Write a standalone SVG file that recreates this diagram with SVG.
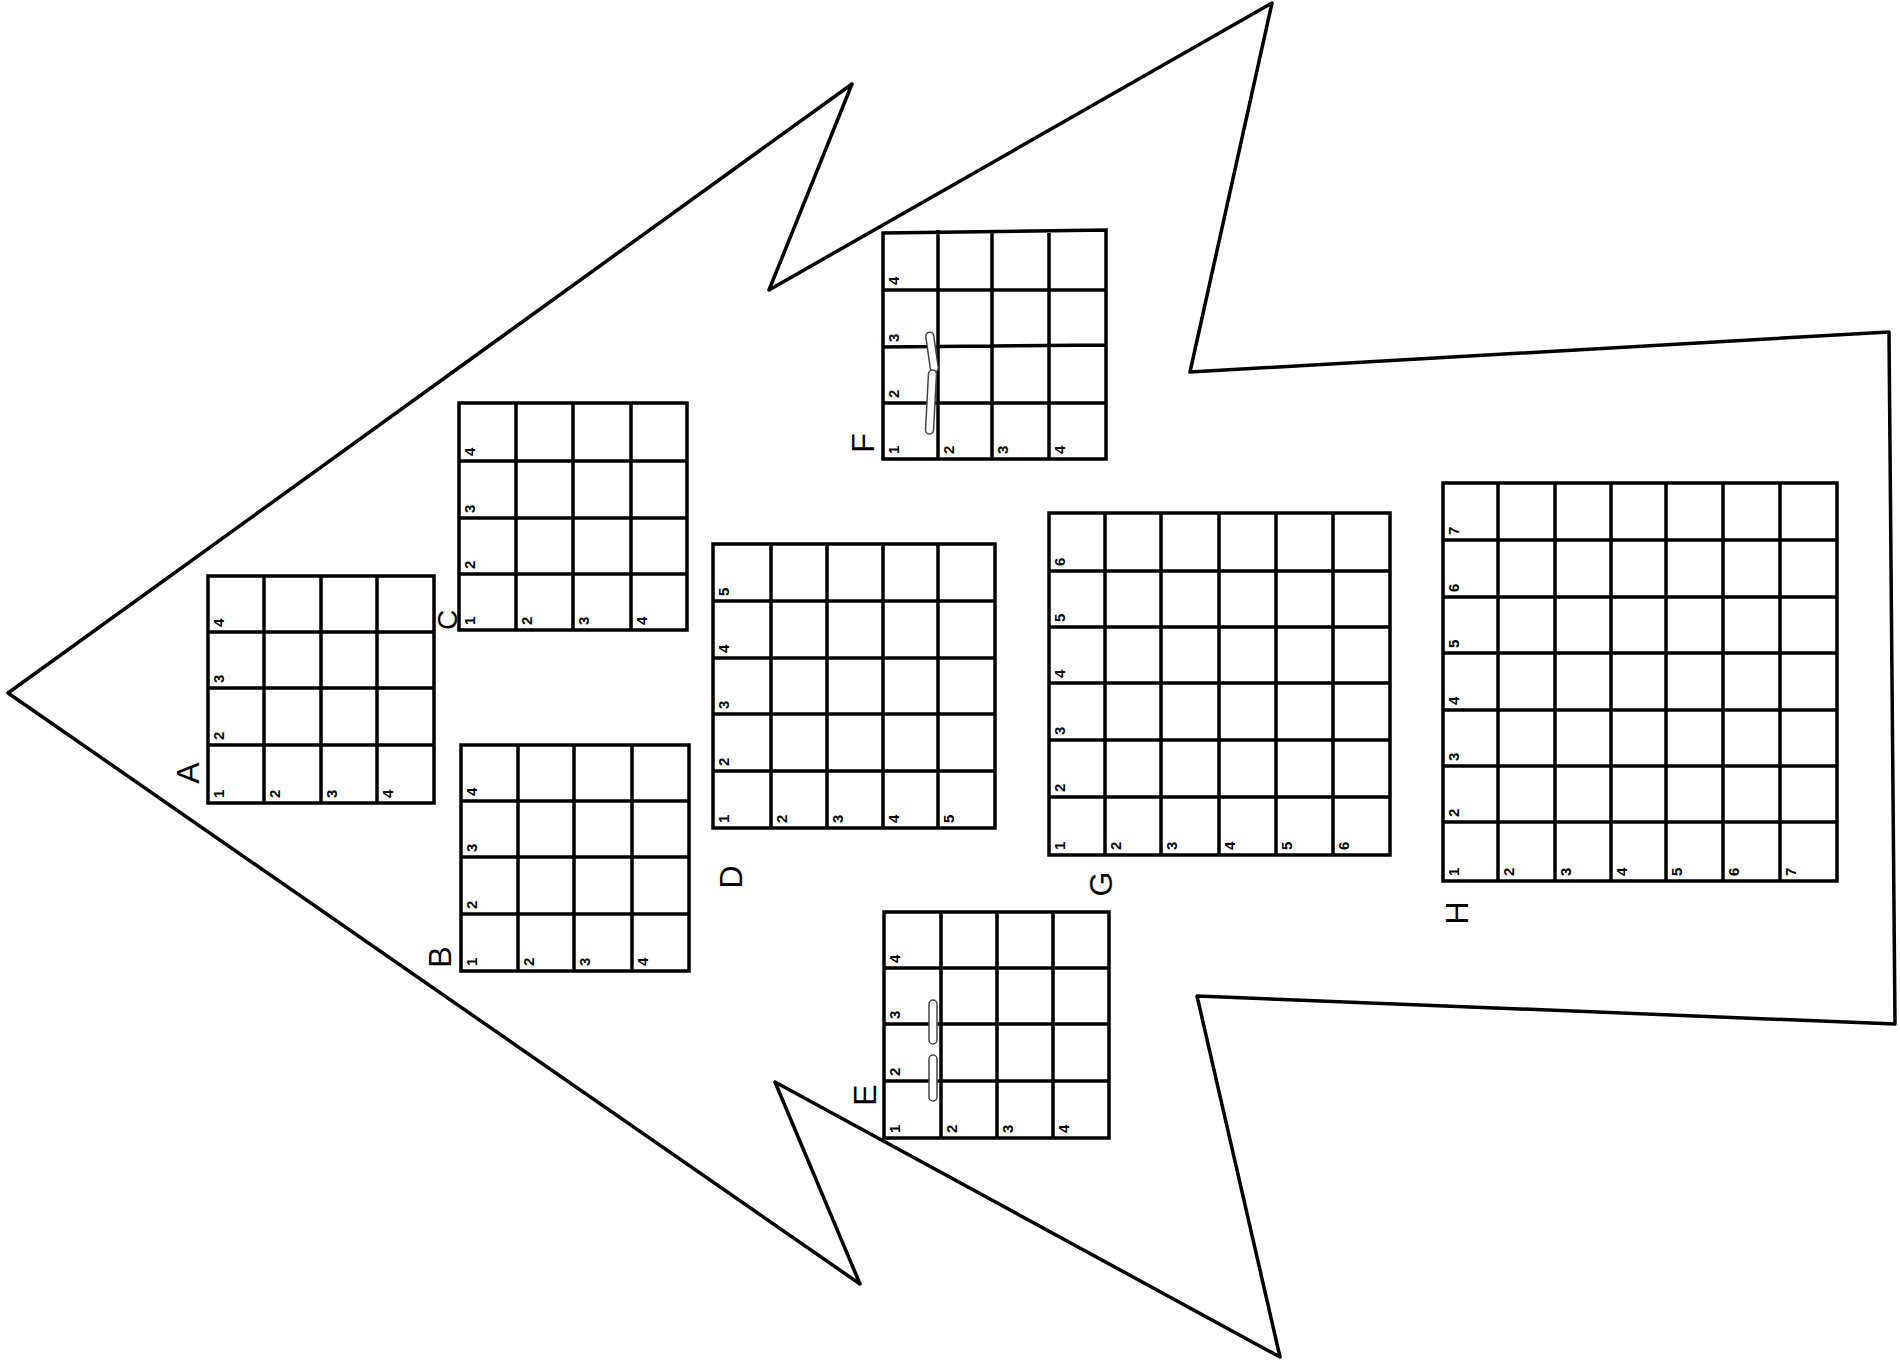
<svg xmlns="http://www.w3.org/2000/svg" width="1900" height="1366" viewBox="0 0 1900 1366">
<style>
.outline{fill:none;stroke:#000;stroke-width:3.5;stroke-linejoin:round;stroke-linecap:round}
.grid{fill:none;stroke:#000;stroke-width:3.5;stroke-linecap:square}
.d{font-family:"Liberation Sans",Arial,sans-serif;font-size:15px;font-weight:bold;fill:#000}
.lbl{font-family:"Liberation Sans",Arial,sans-serif;font-size:32px;fill:#000;text-anchor:middle;dominant-baseline:central}
.tape{fill:#fff;stroke:#444;stroke-width:1.5}
</style>
<rect width="1900" height="1366" fill="#fff"/>
<g id="connectors">
<path id="arrow" class="outline" d="M 8 693 L 852 84 L 769 290 L 1272 3 L 1190 372 L 1889 332 L 1895 1024 L 1197 996 L 1280 1357 L 775 1082 L 860 1284 Z"/>
</g>

<g id="grid-A">
<path class="grid" d="M208 576H434V803H208Z M264 576V803 M321 576V803 M377 576V803 M208 632H434 M208 688H434 M208 745H434"/>
<text class="d" transform="translate(224,798) rotate(-90)">1</text>
<text class="d" transform="translate(224,740) rotate(-90)">2</text>
<text class="d" transform="translate(224,683) rotate(-90)">3</text>
<text class="d" transform="translate(224,627) rotate(-90)">4</text>
<text class="d" transform="translate(280,798) rotate(-90)">2</text>
<text class="d" transform="translate(337,798) rotate(-90)">3</text>
<text class="d" transform="translate(393,798) rotate(-90)">4</text>
<text class="lbl" transform="translate(188,773) rotate(-90)">A</text>
</g>

<g id="grid-C">
<path class="grid" d="M459 403H687V630H459Z M516 403V630 M573 403V630 M631 403V630 M459 461H687 M459 518H687 M459 574H687"/>
<text class="d" transform="translate(475,625) rotate(-90)">1</text>
<text class="d" transform="translate(475,569) rotate(-90)">2</text>
<text class="d" transform="translate(475,513) rotate(-90)">3</text>
<text class="d" transform="translate(475,456) rotate(-90)">4</text>
<text class="d" transform="translate(532,625) rotate(-90)">2</text>
<text class="d" transform="translate(589,625) rotate(-90)">3</text>
<text class="d" transform="translate(647,625) rotate(-90)">4</text>
<text class="lbl" style="font-size:28px" transform="translate(447,620) rotate(-90)">C</text>
</g>

<g id="grid-B">
<path class="grid" d="M461 745H689V971H461Z M518 745V971 M574 745V971 M632 745V971 M461 801H689 M461 857H689 M461 914H689"/>
<text class="d" transform="translate(477,966) rotate(-90)">1</text>
<text class="d" transform="translate(477,909) rotate(-90)">2</text>
<text class="d" transform="translate(477,852) rotate(-90)">3</text>
<text class="d" transform="translate(477,796) rotate(-90)">4</text>
<text class="d" transform="translate(534,966) rotate(-90)">2</text>
<text class="d" transform="translate(590,966) rotate(-90)">3</text>
<text class="d" transform="translate(648,966) rotate(-90)">4</text>
<text class="lbl" transform="translate(440,957) rotate(-90)">B</text>
</g>

<g id="grid-D">
<path class="grid" d="M713 544H995V828H713Z M771 544V828 M827 544V828 M883 544V828 M938 544V828 M713 601H995 M713 658H995 M713 714H995 M713 771H995"/>
<text class="d" transform="translate(729,823) rotate(-90)">1</text>
<text class="d" transform="translate(729,766) rotate(-90)">2</text>
<text class="d" transform="translate(729,709) rotate(-90)">3</text>
<text class="d" transform="translate(729,653) rotate(-90)">4</text>
<text class="d" transform="translate(729,596) rotate(-90)">5</text>
<text class="d" transform="translate(787,823) rotate(-90)">2</text>
<text class="d" transform="translate(843,823) rotate(-90)">3</text>
<text class="d" transform="translate(899,823) rotate(-90)">4</text>
<text class="d" transform="translate(954,823) rotate(-90)">5</text>
<text class="lbl" transform="translate(731,877) rotate(-90)">D</text>
</g>

<g id="grid-F">
<path class="grid" d="M883 233L1106 230V459H883Z M938 232V459 M992 232V459 M1049 231V459 M883 290H1106 M883 347L1106 345 M883 403H1106"/>
<rect class="tape" x="928" y="332" width="8" height="40" rx="4" transform="rotate(-8 932 352)"/>
<rect class="tape" x="927" y="370" width="8" height="64" rx="4" transform="rotate(3 931 402)"/>
<text class="d" transform="translate(899,454) rotate(-90)">1</text>
<text class="d" transform="translate(899,398) rotate(-90)">2</text>
<text class="d" transform="translate(899,342) rotate(-90)">3</text>
<text class="d" transform="translate(899,285) rotate(-90)">4</text>
<text class="d" transform="translate(954,454) rotate(-90)">2</text>
<text class="d" transform="translate(1008,454) rotate(-90)">3</text>
<text class="d" transform="translate(1065,454) rotate(-90)">4</text>
<text class="lbl" transform="translate(863,443) rotate(-90)">F</text>
</g>

<g id="grid-E">
<path class="grid" d="M884 912H1109V1138H884Z M941 912V1138 M997 912V1138 M1053 912V1138 M884 968H1109 M884 1024H1109 M884 1081H1109"/>
<rect class="tape" x="929" y="1000" width="8" height="44" rx="4"/>
<rect class="tape" x="929" y="1055" width="8" height="46" rx="4"/>
<text class="d" transform="translate(900,1133) rotate(-90)">1</text>
<text class="d" transform="translate(900,1076) rotate(-90)">2</text>
<text class="d" transform="translate(900,1019) rotate(-90)">3</text>
<text class="d" transform="translate(900,963) rotate(-90)">4</text>
<text class="d" transform="translate(957,1133) rotate(-90)">2</text>
<text class="d" transform="translate(1013,1133) rotate(-90)">3</text>
<text class="d" transform="translate(1069,1133) rotate(-90)">4</text>
<text class="lbl" transform="translate(865,1095) rotate(-90)">E</text>
</g>

<g id="grid-G">
<path class="grid" d="M1049 513H1390V855H1049Z M1105 513V855 M1161 513V855 M1219 513V855 M1276 513V855 M1333 513V855 M1049 571H1390 M1049 627H1390 M1049 683H1390 M1049 740H1390 M1049 797H1390"/>
<text class="d" transform="translate(1065,850) rotate(-90)">1</text>
<text class="d" transform="translate(1065,792) rotate(-90)">2</text>
<text class="d" transform="translate(1065,735) rotate(-90)">3</text>
<text class="d" transform="translate(1065,678) rotate(-90)">4</text>
<text class="d" transform="translate(1065,622) rotate(-90)">5</text>
<text class="d" transform="translate(1065,566) rotate(-90)">6</text>
<text class="d" transform="translate(1121,850) rotate(-90)">2</text>
<text class="d" transform="translate(1177,850) rotate(-90)">3</text>
<text class="d" transform="translate(1235,850) rotate(-90)">4</text>
<text class="d" transform="translate(1292,850) rotate(-90)">5</text>
<text class="d" transform="translate(1349,850) rotate(-90)">6</text>
<text class="lbl" transform="translate(1101,884) rotate(-90)">G</text>
</g>

<g id="grid-H">
<path class="grid" d="M1443 483H1837V881H1443Z M1498 483V881 M1555 483V881 M1611 483V881 M1666 483V881 M1723 483V881 M1780 483V881 M1443 540H1837 M1443 597H1837 M1443 653H1837 M1443 710H1837 M1443 766H1837 M1443 822H1837"/>
<text class="d" transform="translate(1459,876) rotate(-90)">1</text>
<text class="d" transform="translate(1459,817) rotate(-90)">2</text>
<text class="d" transform="translate(1459,761) rotate(-90)">3</text>
<text class="d" transform="translate(1459,705) rotate(-90)">4</text>
<text class="d" transform="translate(1459,648) rotate(-90)">5</text>
<text class="d" transform="translate(1459,592) rotate(-90)">6</text>
<text class="d" transform="translate(1459,535) rotate(-90)">7</text>
<text class="d" transform="translate(1514,876) rotate(-90)">2</text>
<text class="d" transform="translate(1571,876) rotate(-90)">3</text>
<text class="d" transform="translate(1627,876) rotate(-90)">4</text>
<text class="d" transform="translate(1682,876) rotate(-90)">5</text>
<text class="d" transform="translate(1739,876) rotate(-90)">6</text>
<text class="d" transform="translate(1796,876) rotate(-90)">7</text>
<text class="lbl" transform="translate(1457,913) rotate(-90)">H</text>
</g>
</svg>
